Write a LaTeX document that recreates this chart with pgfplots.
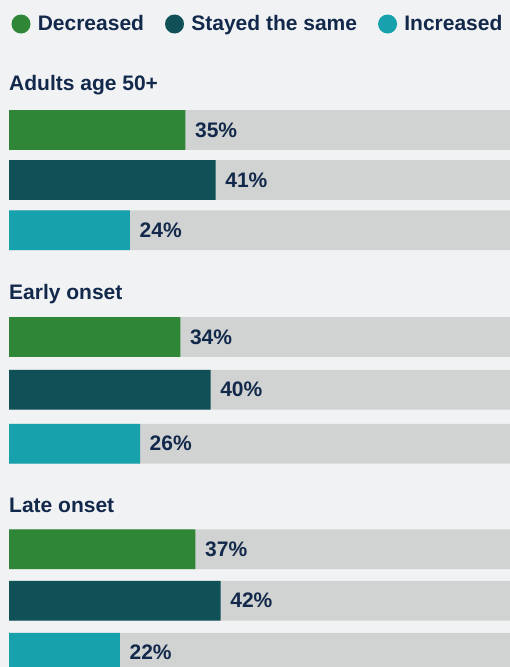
\documentclass[border=0pt]{standalone}
\usepackage{fontspec}
\setmainfont{Liberation Sans}
\usepackage{pgfplots}
\pgfplotsset{compat=1.18}
\definecolor{bgc}{HTML}{F1F2F4}
\definecolor{trk}{HTML}{D1D3D2}
\definecolor{cgreen}{HTML}{2E8636}
\definecolor{cdark}{HTML}{0F5157}
\definecolor{cteal}{HTML}{17A1AC}
\definecolor{txt}{HTML}{13294B}
\newcommand{\ff}{\fontsize{21}{24}\selectfont\bfseries}
\pgfplotsset{
  mybar/.style={xbar, bar width=39.7, bar shift=0pt, draw=none},
  lbl/.style={point meta=x,
    nodes near coords={\pgfmathprintnumber{\pgfplotspointmeta}\%},
    nodes near coords style={anchor=west, inner sep=0pt, xshift=9.5pt, font=\ff, text=txt}},
}
\begin{document}
\begin{tikzpicture}
\begin{axis}[
  scale only axis, width=510pt, height=667pt,
  xmin=-1.786, xmax=99.40, ymin=0, ymax=667, y dir=reverse,
  axis background/.style={fill=bgc},
  axis line style={draw=none}, xtick=\empty, ytick=\empty,
  /pgf/number format/assume math mode=true,
  legend columns=3,
  legend style={at={(axis description cs:0,1)}, anchor=north west,
    xshift=11.5pt, yshift=-14.5pt, draw=none, fill=none,
    inner sep=0pt, outer sep=0pt, font=\ff, text=txt,
    nodes={inner sep=0pt}, cells={anchor=base west},
    /tikz/every odd column/.append style={column sep=7.3pt},
    /tikz/every even column/.append style={column sep=21pt}},
]
\addplot[mybar, fill=trk, forget plot] coordinates {
  (100,130) (100,180) (100,230.3)
  (100,337) (100,389.7) (100,443.7)
  (100,549.3) (100,600.7) (100,652.7)};
\addplot[mybar, fill=cgreen, lbl,
  legend image code/.code={\fill[cgreen] (9.5pt,6.7pt) circle (9.5pt);}]
  coordinates {(35,130) (34,337) (37,549.3)};
\addlegendentry{Decreased}
\addplot[mybar, fill=cdark, lbl,
  legend image code/.code={\fill[cdark] (9.5pt,6.7pt) circle (9.5pt);}]
  coordinates {(41,180) (40,389.7) (42,600.7)};
\addlegendentry{Stayed the same}
\addplot[mybar, fill=cteal, lbl,
  legend image code/.code={\fill[cteal] (9.5pt,6.7pt) circle (9.5pt);}]
  coordinates {(24,230.3) (26,443.7) (22,652.7)};
\addlegendentry{Increased}
\node[anchor=base west, inner sep=0pt, font=\ff, text=txt] at (axis cs:0,90.7) {Adults age 50+};
\node[anchor=base west, inner sep=0pt, font=\ff, text=txt] at (axis cs:0,299) {Early onset};
\node[anchor=base west, inner sep=0pt, font=\ff, text=txt] at (axis cs:0,512) {Late onset};
\end{axis}
\end{tikzpicture}
\end{document}
